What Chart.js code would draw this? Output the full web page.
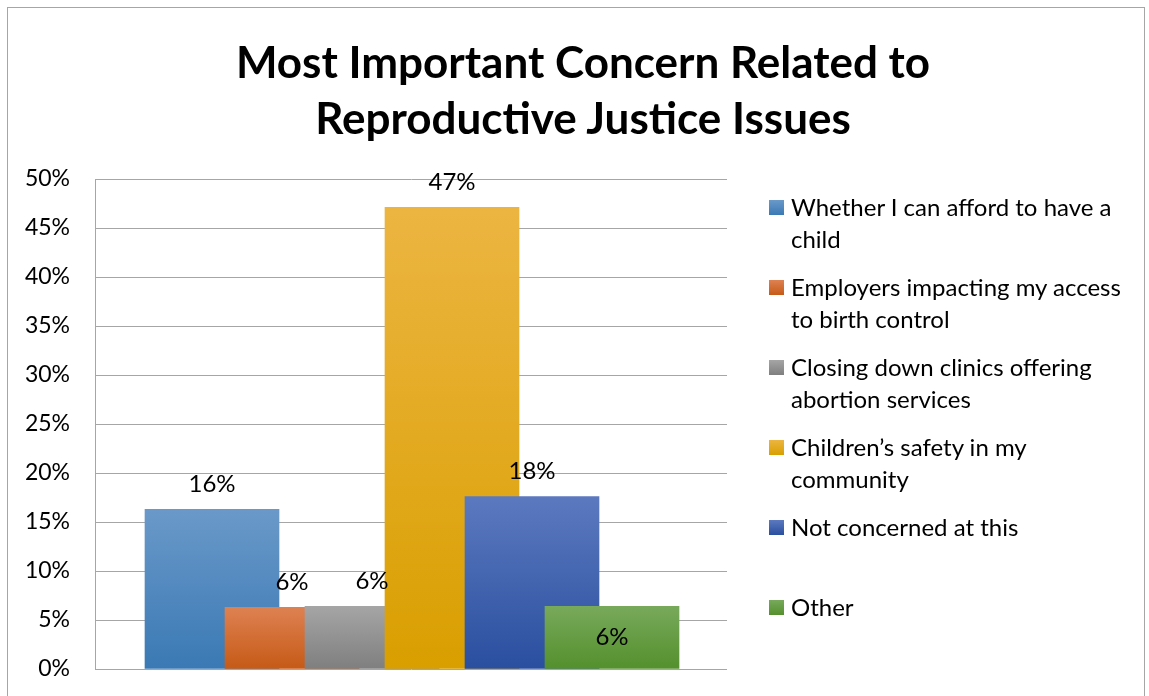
<!DOCTYPE html>
<html>
<head>
  <title>Most Important Concern Related to Reproductive Justice Issues</title>
  <script src="https://cdn.jsdelivr.net/npm/chart.js"></script>
  <style>
    body { margin: 0; background: #fff; font-family: Lato, sans-serif; }
    #wrap { position: relative; width: 1149px; height: 696px; overflow: hidden; }
    #frame { position: absolute; left: 7px; top: 7px; width: 1136px; height: 720px; border: 1px solid #a6a6a6; }
    #chart { position: absolute; left: 0; top: 0; }
    #title {
      position: absolute; left: 0; top: 33px; width: 1166px;
      text-align: center; font-weight: bold; font-size: 44px; line-height: 56px; color: #000;
    }
    #legend { position: absolute; left: 769px; top: 191px; width: 372px; }
    .item { position: relative; height: 80px; padding-left: 22px; font-size: 24px; line-height: 32px; color: #000; }
    .box { position: absolute; left: 0; top: 9px; width: 15px; height: 15px; }
  </style>
</head>
<body>
  <div id="wrap">
    <div id="frame"></div>
    <canvas id="chart" width="1149" height="696"></canvas>
    <div id="title">Most Important Concern Related to<br>Reproductive Justice Issues</div>
    <div id="legend"></div>
  </div>

  <script>
    // answers, in the order Excel put them
    const concerns = [
      "Whether I can afford to have a child",
      "Employers impacting my access to birth control",
      "Closing down clinics offering abortion services",
      "Children\u2019s safety in my community",
      "Not concerned at this",
      "Other"
    ];
    const shares = [16.3, 6.3, 6.4, 47.1, 17.6, 6.4];   // percent of respondents
    const topColors = ["#6a99c9", "#de8152", "#a5a5a5", "#ecb541", "#5b79bf", "#78a95b"];
    const bottomColors = ["#3a79b4", "#c65a16", "#7f7f7f", "#d99f00", "#2a4f9f", "#54902d"];
    const yTicks = [0, 5, 10, 15, 20, 25, 30, 35, 40, 45, 50];

    const legendEl = document.getElementById("legend");
    concerns.forEach((name, i) => {
      const item = document.createElement("div");
      item.className = "item";
      item.innerHTML = `<span class="box" style="background:linear-gradient(${topColors[i]},${bottomColors[i]})"></span>${name}`;
      legendEl.appendChild(item);
    });

    function barFill(ctx) {
      const i = ctx.datasetIndex;
      const area = ctx.chart.chartArea;
      if (!area) return bottomColors[i];
      const top = ctx.chart.scales.y.getPixelForValue(shares[i]);
      const g = ctx.chart.ctx.createLinearGradient(0, top, 0, area.bottom);
      g.addColorStop(0, topColors[i]);
      g.addColorStop(1, bottomColors[i]);
      return g;
    }

    // value labels: above each bar, except the ones listed as inside
    const barLabels = {
      id: "barLabels",
      afterDatasetsDraw(chart, args, opts) {
        const c = chart.ctx;
        c.save();
        c.font = "24px Lato";
        c.fillStyle = "#000";
        c.textAlign = "center";
        c.textBaseline = "middle";
        chart.data.datasets.forEach((ds, i) => {
          chart.getDatasetMeta(i).data.forEach((bar, j) => {
            const v = ds.data[j].y;
            const y = opts.inside.includes(ds.label) ? (bar.y + bar.base) / 2 : bar.y - 25;
            c.fillText(Math.round(v) + "%", bar.x, y);
          });
        });
        c.restore();
      }
    };

    new Chart(document.getElementById("chart"), {
      type: "bar",
      data: {
        datasets: concerns.map((name, i) => ({
          label: name,
          data: [{ x: i, y: shares[i] }],
          backgroundColor: barFill,
          order: concerns.length - i,   // later bars drawn over earlier ones
          grouped: false,
          barThickness: 134
        }))
      },
      options: {
        responsive: false,
        animation: false,
        layout: { padding: { top: 179, right: 422, bottom: 27, left: 0 } },
        plugins: {
          legend: { display: false },
          tooltip: { enabled: false },
          barLabels: { inside: ["Other"] }
        },
        scales: {
          x: { type: "linear", min: -1.4625, max: 6.4375, offset: false, display: false },
          y: {
            min: 0,
            max: 50,
            afterFit(scale) {
              scale.width = 95;
              // tick padding would otherwise push the plot bottom up
              scale.paddingTop = 0;
              scale.paddingBottom = 0;
            },
            afterBuildTicks(scale) { scale.ticks = yTicks.map(v => ({ value: v })); },
            ticks: {
              padding: 25,
              color: "#000",
              font: { family: "Lato", size: 23 },
              callback: v => v + "%"
            },
            grid: { color: "#a6a6a6", lineWidth: 1, drawTicks: false },
            border: { color: "#a6a6a6" }
          }
        }
      },
      plugins: [barLabels]
    });
  </script>
</body>
</html>
